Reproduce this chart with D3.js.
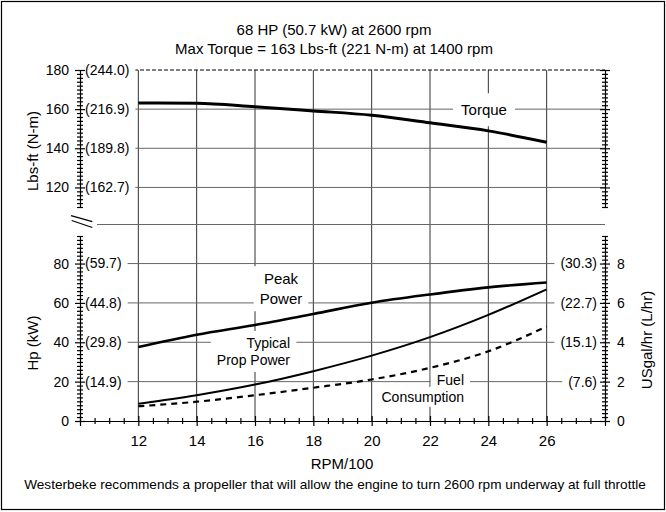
<!DOCTYPE html>
<html>
<head>
<meta charset="utf-8">
<script src="https://cdn.jsdelivr.net/npm/d3@7"></script>
<style>
  body { margin: 0; background: #fff; }
  svg { font-family: "Liberation Sans", Arial, sans-serif; }
</style>
</head>
<body>
<svg id="chart"></svg>
<script>
// values
const rpm = [12, 14, 16, 18, 20, 22, 24, 26];
const torque = [163.2, 163, 161.2, 159.1, 156.9, 153, 148.9, 143.1];   // Lbs-ft
const peakHp = [37.6, 43.8, 48.8, 54.4, 60.1, 64.3, 67.9, 70.4];      // Hp
const propHp = [8.8, 13.1, 18.5, 25.3, 33.2, 42.6, 53.9, 66.9];       // Hp
const fuelGph = [0.75, 0.98, 1.31, 1.69, 2.11, 2.7, 3.54, 4.8];       // USgal/hr

const torqueTicks = [120, 140, 160, 180];
const torqueNm = ["(162.7)", "(189.8)", "(216.9)", "(244.0)"];
const hpTicks = [20, 40, 60, 80];
const hpKw = ["(14.9)", "(29.8)", "(44.8)", "(59.7)"];
const fuelTicks = [2, 4, 6, 8];
const fuelLph = ["(7.6)", "(15.1)", "(22.7)", "(30.3)"];
const xTicks = [12, 14, 16, 18, 20, 22, 24, 26];

const W = 666, H = 512;
const svg = d3.select("#chart").attr("width", W).attr("height", H);

let x = d3.scaleLinear().domain([10, 28]).range([80, 605]);
let yTop = d3.scaleLinear().domain([110, 180]).range([207, 70]);
let yBot = d3.scaleLinear().domain([0, 94]).range([421, 236]);
let yFuel = d3.scaleLinear().domain([0, 9.4]).range([421, 236]);

// outer frame
svg.append("rect")
    .attr("x", 1.5).attr("y", 1.5)
    .attr("width", W - 3).attr("height", H - 4)
    .attr("fill", "none").attr("stroke", "#000").attr("stroke-width", 1.2);

const grid = svg.append("g");
const knock = svg.append("g");
const curves = svg.append("g");
const labels = svg.append("g");
const axes = svg.append("g");

// grid
xTicks.forEach(d => {
    grid.append("line")
        .attr("x1", x(d)).attr("x2", x(d))
        .attr("y1", yTop(180)).attr("y2", yBot(0))
        .attr("stroke", "#333").attr("stroke-width", 1);
});
torqueTicks.forEach(d => {
    grid.append("line")
        .attr("x1", x(10)).attr("x2", x(28))
        .attr("y1", yTop(d)).attr("y2", yTop(d))
        .attr("stroke", d === 180 ? "#000" : "#666")
        .attr("stroke-width", 1)
        .attr("stroke-dasharray", d === 180 ? "4,2" : null);
});
hpTicks.forEach(d => {
    grid.append("line")
        .attr("x1", x(10)).attr("x2", x(28))
        .attr("y1", yBot(d)).attr("y2", yBot(d))
        .attr("stroke", "#666").attr("stroke-width", 1);
});
// axis break
grid.append("line")
    .attr("x1", 97).attr("x2", x(28))
    .attr("y1", 224.5).attr("y2", 224.5)
    .attr("stroke", "#666");
[[71, 215.7, 92.3, 221.7], [71.7, 220.5, 92.3, 227.5]].forEach(s => {
    axes.append("line")
        .attr("x1", s[0]).attr("y1", s[1]).attr("x2", s[2]).attr("y2", s[3])
        .attr("stroke", "#000").attr("stroke-width", 1.2);
});

// text with a white box behind it
function addText(lines, cx, cy, size, anchor, pad, lineH) {
    let g = labels.append("g");
    lines.forEach((t, i) => {
        g.append("text")
            .attr("x", cx).attr("y", cy + i * (lineH || 0))
            .attr("dy", "0.35em")
            .attr("text-anchor", anchor)
            .attr("font-size", size)
            .text(t);
    });
    let b = g.node().getBBox();
    knock.append("rect")
        .attr("x", b.x - pad[0]).attr("y", b.y - pad[1])
        .attr("width", b.width + 2 * pad[0]).attr("height", b.height + 2 * pad[1])
        .attr("fill", "#fff");
}

torqueTicks.forEach((d, i) => addText([torqueNm[i]], 85, yTop(d), 14, "start", [6, 2]));
hpTicks.forEach((d, i) => addText([hpKw[i]], 85, yBot(d), 14, "start", [6, 2]));
fuelTicks.forEach((d, i) => addText([fuelLph[i]], 597, yFuel(d), 14, "end", [6, 2]));

addText(["Torque"], 484, 110, 15, "middle", [8, 8]);
addText(["Peak", "Power"], 281, 279, 15, "middle", [6, 4], 20);
addText(["Typical", "Prop Power"], 290, 343, 14, "end", [6, 4], 17);
addText(["Fuel"], 464, 380, 14, "end", [6, 3]);
addText(["Consumption"], 464, 397, 14, "end", [6, 2]);

// curves
let torqueLine = d3.line().x((d, i) => x(rpm[i])).y(d => yTop(d)).curve(d3.curveMonotoneX);
let hpLine = d3.line().x((d, i) => x(rpm[i])).y(d => yBot(d)).curve(d3.curveMonotoneX);
let fuelLine = d3.line().x((d, i) => x(rpm[i])).y(d => yFuel(d)).curve(d3.curveMonotoneX);

curves.append("path").attr("d", torqueLine(torque))
    .attr("fill", "none").attr("stroke", "#000").attr("stroke-width", 3);
curves.append("path").attr("d", hpLine(peakHp))
    .attr("fill", "none").attr("stroke", "#000").attr("stroke-width", 2.6);
curves.append("path").attr("d", hpLine(propHp))
    .attr("fill", "none").attr("stroke", "#000").attr("stroke-width", 2);
curves.append("path").attr("d", fuelLine(fuelGph))
    .attr("fill", "none").attr("stroke", "#000").attr("stroke-width", 2.2)
    .attr("stroke-dasharray", "6,5");

// axes
function styleAxis(g, isMajor, side) {
    g.attr("font-family", null).attr("font-size", 14);
    g.select(".domain").attr("stroke", "#000").attr("stroke-width", 1.2);
    g.selectAll(".tick line").each(function (d) {
        let m = isMajor(d) ? 5 : 3;
        if (side === "v") d3.select(this).attr("x1", -m).attr("x2", m);
        else d3.select(this).attr("y1", -m).attr("y2", m);
    }).attr("stroke", "#000").attr("stroke-width", 1.2);
}
const isInt = d => Math.abs(d - Math.round(d)) < 1e-6;

let leftTop = axes.append("g").attr("transform", `translate(${x(10)},0)`)
    .call(d3.axisLeft(yTop).tickValues(d3.range(110, 181, 2)).tickSizeOuter(0)
        .tickPadding(5).tickFormat(d => d % 20 === 0 && d >= 120 ? d : ""));
styleAxis(leftTop, d => d % 20 === 0, "v");

let rightTop = axes.append("g").attr("transform", `translate(${x(28)},0)`)
    .call(d3.axisRight(yTop).tickValues(d3.range(110, 181, 2)).tickSizeOuter(0).tickFormat(""));
styleAxis(rightTop, d => d % 20 === 0, "v");

let leftBot = axes.append("g").attr("transform", `translate(${x(10)},0)`)
    .call(d3.axisLeft(yBot).tickValues(d3.range(0, 95, 2)).tickSizeOuter(0)
        .tickPadding(5).tickFormat(d => d % 20 === 0 && d <= 80 ? d : ""));
styleAxis(leftBot, d => d % 20 === 0, "v");

let rightBot = axes.append("g").attr("transform", `translate(${x(28)},0)`)
    .call(d3.axisRight(yFuel).tickValues(d3.range(0, 48).map(i => i / 5)).tickSizeOuter(0)
        .tickPadding(6).tickFormat(d => isInt(d) && Math.round(d) % 2 === 0 ? Math.round(d) : ""));
styleAxis(rightBot, d => isInt(d) && Math.round(d) % 2 === 0, "v");

let bottom = axes.append("g").attr("transform", `translate(0,${yBot(0)})`)
    .call(d3.axisBottom(x).tickValues(d3.range(20, 57).map(i => i / 2)).tickSizeOuter(0)
        .tickPadding(8).tickFormat(d => xTicks.includes(d) ? d : ""));
styleAxis(bottom, d => isInt(d) && d % 2 === 0, "h");
bottom.selectAll(".tick text").attr("font-size", 15);

// titles
svg.append("text").attr("x", 334).attr("y", 30).attr("dy", "0.35em")
    .attr("text-anchor", "middle").attr("font-size", 15)
    .text("68 HP (50.7 kW) at 2600 rpm");
svg.append("text").attr("x", 334).attr("y", 49).attr("dy", "0.35em")
    .attr("text-anchor", "middle").attr("font-size", 15)
    .text("Max Torque = 163 Lbs-ft (221 N-m) at 1400 rpm");

svg.append("text").attr("transform", "translate(33,151) rotate(-90)")
    .attr("dy", "0.35em").attr("text-anchor", "middle").attr("font-size", 15)
    .text("Lbs-ft (N-m)");
svg.append("text").attr("transform", "translate(33,343) rotate(-90)")
    .attr("dy", "0.35em").attr("text-anchor", "middle").attr("font-size", 15)
    .text("Hp (kW)");
svg.append("text").attr("transform", "translate(647,340) rotate(-90)")
    .attr("dy", "0.35em").attr("text-anchor", "middle").attr("font-size", 15)
    .text("USgal/hr (L/hr)");
svg.append("text").attr("x", 342).attr("y", 464).attr("dy", "0.35em")
    .attr("text-anchor", "middle").attr("font-size", 15)
    .text("RPM/100");
svg.append("text").attr("x", 335).attr("y", 484).attr("dy", "0.35em")
    .attr("text-anchor", "middle").attr("font-size", 13.6)
    .text("Westerbeke recommends a propeller that will allow the engine to turn 2600 rpm underway at full throttle");
</script>
</body>
</html>
